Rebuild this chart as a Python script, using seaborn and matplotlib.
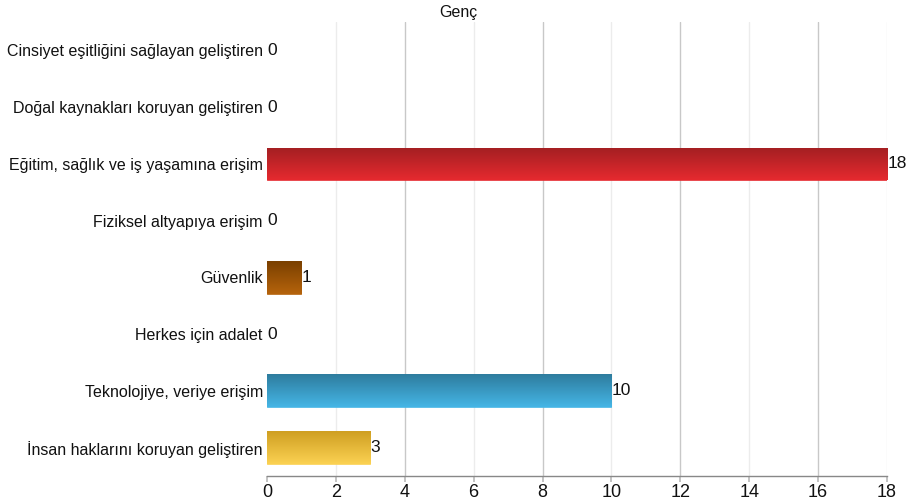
import numpy as np
import pandas as pd
import matplotlib
matplotlib.use("Agg")
import matplotlib.pyplot as plt
import seaborn as sns
from matplotlib.colors import LinearSegmentedColormap

categories = [
    "Cinsiyet eşitliğini sağlayan geliştiren",
    "Doğal kaynakları koruyan geliştiren",
    "Eğitim, sağlık ve iş yaşamına erişim",
    "Fiziksel altyapıya erişim",
    "Güvenlik",
    "Herkes için adalet",
    "Teknolojiye, veriye erişim",
    "İnsan haklarını koruyan geliştiren",
]
values = [0, 0, 18, 0, 1, 0, 10, 3]
top_colors = ["#a31f22", "#a31f22", "#a31f22", "#a31f22", "#7a4000", "#7a4000", "#2e7c9e", "#cf9f22"]
bottom_colors = ["#e52a2f", "#e52a2f", "#e52a2f", "#e52a2f", "#b5630c", "#b5630c", "#45b5e5", "#fbd152"]
xticks = [0, 2, 4, 6, 8, 10, 12, 14, 16, 18]
title = "Genç"

sns.set_theme(style="white")
font_list = ["Liberation Sans Narrow", "Liberation Sans", "DejaVu Sans"]
plt.rcParams["font.family"] = font_list

df = pd.DataFrame({"cat": categories, "val": values})

fig = plt.figure(figsize=(9.13, 5.03), dpi=100)
ax = fig.add_axes([0.2924, 0.0537, 0.6791, 0.9023])

sns.barplot(data=df, y="cat", x="val", orient="h", ax=ax, width=0.58,
            color="#cccccc", saturation=1, zorder=3)

ax.set_xlim(0, 18)
ax.set_ylim(7.5, -0.5)

# gradient fill for each bar
for patch, tc, bc in zip(ax.patches, top_colors, bottom_colors):
    x0, y0 = patch.get_x(), patch.get_y()
    w, h = patch.get_width(), patch.get_height()
    if w <= 0:
        patch.set_visible(False)
        continue
    cmap = LinearSegmentedColormap.from_list("g", [tc, bc])
    grad = np.linspace(0, 1, 100).reshape(-1, 1)
    im = ax.imshow(grad, cmap=cmap, aspect="auto",
                   extent=[x0, x0 + w, y0 + h, y0], origin="upper", zorder=3)
    im.set_clip_path(patch)
    patch.set_facecolor("none")
    patch.set_edgecolor(bc)
    patch.set_linewidth(0.6)

ax.set_xlim(0, 18)
ax.set_ylim(7.5, -0.5)

# value labels
for i, v in enumerate(values):
    ax.text(v + 0.01, i, str(v), va="center", ha="left", fontsize=12.5,
            color="#111111", zorder=5)

# gridlines
for xv in xticks:
    if xv == 0:
        continue
    col = "#c8c8c8" if xv % 4 == 0 else "#ececec"
    ax.axvline(xv, color=col, lw=1, zorder=1)

ax.set_xticks(xticks)
ax.set_xticklabels([str(t) for t in xticks], fontsize=13)
ax.tick_params(axis="x", bottom=True, length=4, color="#bbbbbb", pad=2, labelcolor="#111111")
ax.tick_params(axis="y", left=False, length=0, pad=3, labelsize=11.5, labelcolor="#111111")
ax.set_xlabel("")
ax.set_ylabel("")

for s in ["top", "right", "left"]:
    ax.spines[s].set_visible(False)
ax.spines["bottom"].set_color("#888888")
ax.spines["bottom"].set_linewidth(1)

fig.text(458 / 913, 1 - 12 / 503, title, ha="center", va="center", fontsize=11.5, color="#111111")

fig.savefig("out.png", dpi=100, facecolor="white")
